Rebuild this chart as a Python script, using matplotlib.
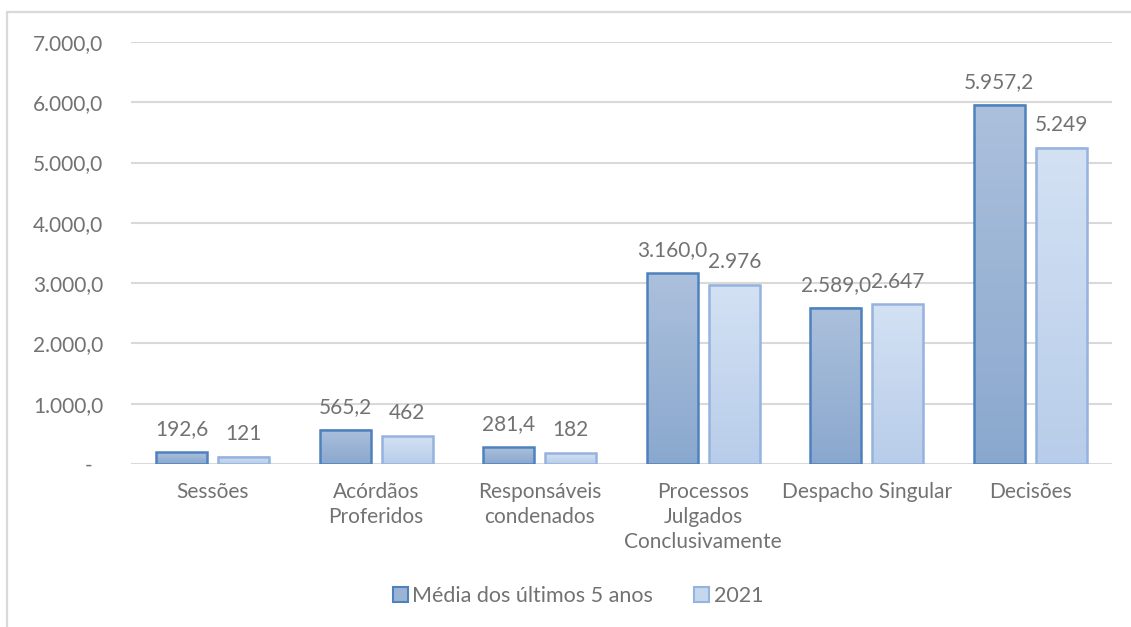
import numpy as np
import matplotlib.pyplot as plt
from matplotlib.colors import LinearSegmentedColormap
from matplotlib.patches import Rectangle, Patch

plt.rcParams['font.family'] = ['Lato', 'DejaVu Sans']

categorias = ['Sessões', 'Acórdãos\nProferidos', 'Responsáveis\ncondenados',
              'Processos\nJulgados\nConclusivamente', 'Despacho Singular', 'Decisões']
media_5anos = [192.6, 565.2, 281.4, 3160.0, 2589.0, 5957.2]
ano_2021 = [121, 462, 182, 2976, 2647, 5249]
serie_nomes = ['Média dos últimos 5 anos', '2021']

txt = '#727272'
grid_c = '#d9d9d9'

def fmt_br(v, dec):
    s = f'{v:,.{dec}f}'
    return s.replace(',', 'X').replace('.', ',').replace('X', '.')

fig = plt.figure(figsize=(11.31, 6.27), dpi=100)
ax = fig.add_axes([131/1131, 1-464/627, (1112-131)/1131, (464-42)/627])

# moldura externa (so topo e esquerda aparecem)
fig.patches.append(Rectangle((7/1131, -0.2), 1.2, 1.2 - 12/627, transform=fig.transFigure,
                             fill=False, edgecolor=grid_c, lw=1.6, zorder=0))

x = np.arange(len(categorias))
w = 0.31
off = 0.19
cm_dark = LinearSegmentedColormap.from_list('d', ['#8aa8ce', '#abc0dc'])
cm_light = LinearSegmentedColormap.from_list('l', ['#b8cdea', '#d3e1f3'])
grad = np.linspace(0, 1, 100).reshape(-1, 1)

for vals, dx, cmap, ec, dec in [(media_5anos, -off, cm_dark, '#4f81bd', 1),
                                (ano_2021, off, cm_light, '#95b3de', 0)]:
    bars = ax.bar(x + dx, vals, w, color='none', edgecolor=ec, lw=1.8, zorder=3)
    for b, v in zip(bars, vals):
        x0 = b.get_x()
        ax.imshow(grad, cmap=cmap, origin='lower', aspect='auto',
                  extent=(x0, x0 + w, 0, v), zorder=2)
        ax.annotate(fmt_br(v, dec), (b.get_x() + w / 2, v), xytext=(0, 16.5),
                    textcoords='offset points', ha='center', va='center',
                    fontsize=15, color=txt)

ax.set_xlim(-0.5, len(categorias) - 0.5)
ax.set_ylim(0, 7000)
ax.set_yticks(np.arange(0, 7001, 1000))
ax.set_yticklabels(['-  '] + [fmt_br(v, 1) for v in range(1000, 7001, 1000)])
ax.set_xticks(x)
ax.set_xticklabels(categorias, linespacing=1.3)
ax.tick_params(axis='both', length=0, labelsize=15, labelcolor=txt)
ax.tick_params(axis='y', pad=20)
ax.tick_params(axis='x', pad=13)
for s in ax.spines.values():
    s.set_visible(False)
ax.grid(axis='y', color=grid_c, lw=1.5, zorder=0)
ax.set_axisbelow(True)

handles = [Patch(facecolor='#9bb4d6', edgecolor='#4f81bd', lw=1.5),
           Patch(facecolor='#c5d7ee', edgecolor='#95b3de', lw=1.5)]
fig.legend(handles, serie_nomes, loc='center', bbox_to_anchor=(578/1131, 1-596/627),
           ncol=2, frameon=False, fontsize=15.5, labelcolor=txt,
           handlelength=0.7, handleheight=0.7, handletextpad=0.2, columnspacing=1.9)

fig.savefig('out.png', dpi=100)
